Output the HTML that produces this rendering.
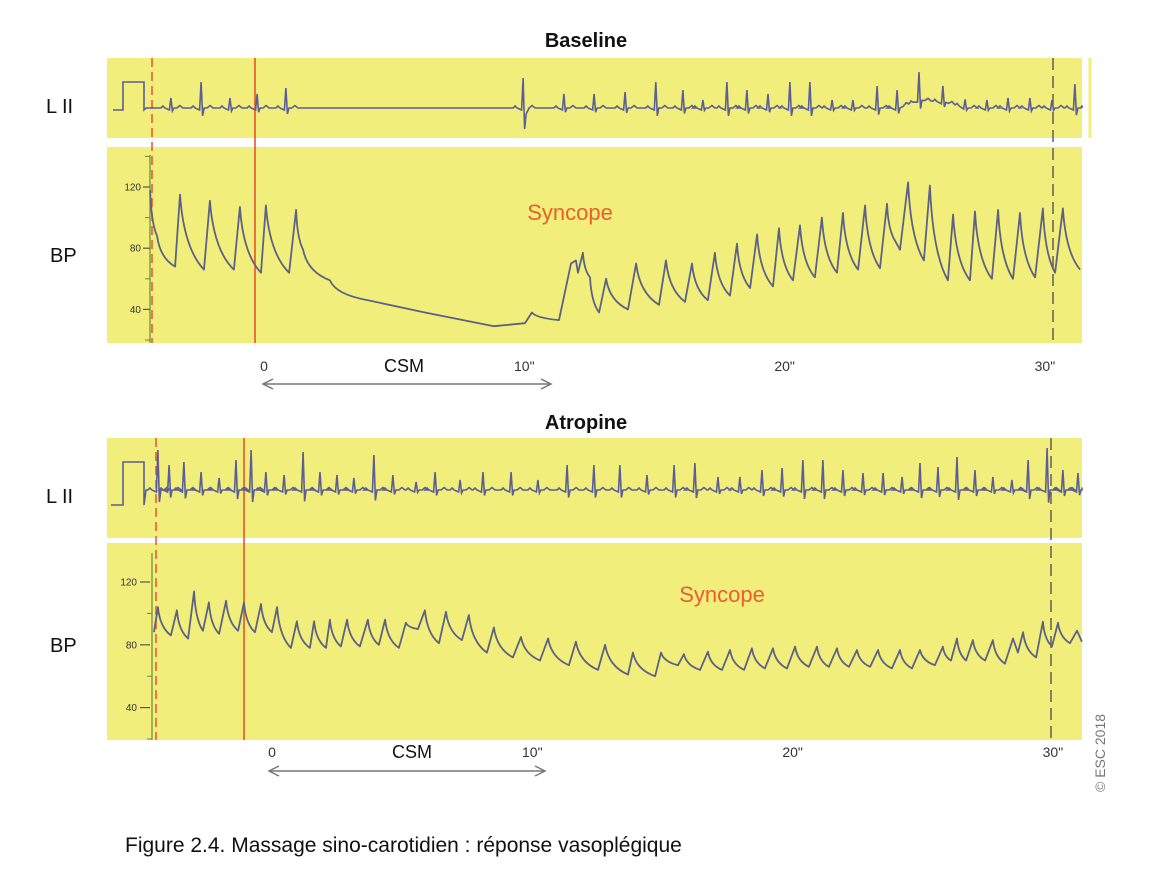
<!DOCTYPE html>
<html><head><meta charset="utf-8">
<style>
html,body{margin:0;padding:0;background:#fff;}
svg{display:block;font-family:"Liberation Sans",sans-serif;}
</style></head>
<body>
<svg id="fig" width="1166" height="880" viewBox="0 0 1166 880" xmlns="http://www.w3.org/2000/svg">
  <rect x="0" y="0" width="1166" height="880" fill="#ffffff"/>
  <g>
    <text x="586" y="47" text-anchor="middle" font-size="20" font-weight="bold" fill="#111">Baseline</text>
    <rect x="107" y="58" width="975" height="80" fill="#f1ee7b"/>
    <rect x="107" y="147" width="975" height="196" fill="#f1ee7b"/>
    <line x1="1090" y1="58" x2="1090" y2="138" stroke="#f1ee7b" stroke-width="3"/>
    <text x="46" y="113" font-size="20" fill="#111">L II</text>
    <text x="50" y="262" font-size="20" fill="#111">BP</text>
    <text x="570" y="220" text-anchor="middle" font-size="22" fill="#e8602c">Syncope</text>
    <g id="bAxis"></g>
    <g id="bLines"></g>
    <path id="bEcg" fill="none" stroke="#5a5f95" stroke-width="1.6"/>
    <path id="bBp" fill="none" stroke="#5c6285" stroke-width="1.8" stroke-linejoin="round"/>
    <g id="bTicks"></g>
    <text x="404" y="372" text-anchor="middle" font-size="18" fill="#111">CSM</text>
    <g stroke="#777" stroke-width="1.5" fill="none">
      <line x1="263" y1="384" x2="551" y2="384"/>
      <polyline points="273,379 263,384 273,389"/>
      <polyline points="541,379 551,384 541,389"/>
    </g>
  </g>
  <g>
    <text x="586" y="429" text-anchor="middle" font-size="20" font-weight="bold" fill="#111">Atropine</text>
    <rect x="107" y="438" width="975" height="100" fill="#f1ee7b"/>
    <rect x="107" y="543" width="975" height="197" fill="#f1ee7b"/>
    <text x="46" y="503" font-size="20" fill="#111">L II</text>
    <text x="50" y="652" font-size="20" fill="#111">BP</text>
    <text x="722" y="602" text-anchor="middle" font-size="22" fill="#e8602c">Syncope</text>
    <g id="aAxis"></g>
    <g id="aLines"></g>
    <path id="aEcg" fill="none" stroke="#5a5f95" stroke-width="1.6"/>
    <path id="aBp" fill="none" stroke="#5c6285" stroke-width="1.8" stroke-linejoin="round"/>
    <g id="aTicks"></g>
    <text x="412" y="758" text-anchor="middle" font-size="18" fill="#111">CSM</text>
    <g stroke="#777" stroke-width="1.5" fill="none">
      <line x1="269" y1="771" x2="545" y2="771"/>
      <polyline points="279,766 269,771 279,776"/>
      <polyline points="535,766 545,771 535,776"/>
    </g>
  </g>
  <text transform="translate(1105,792) rotate(-90)" font-size="14" fill="#777">© ESC 2018</text>
  <text x="125" y="852" font-size="21" fill="#111">Figure 2.4. Massage sino-carotidien : réponse vasoplégique</text>
</svg>
<script>
// ---- data ----
const timeTicks = [0, 10, 20, 30];
const timeTickLabels = ["0", "10\"", "20\"", "30\""];
const bpTicks = [40, 80, 120];
const bpMinorTicks = [20, 60, 100, 140];

// Baseline BP trace (seconds, mmHg)
const baseBpT = [-4.30,-4.03,-3.34,-3.15,-2.23,-2.00,-1.08,-0.85,-0.04,0.15,1.04,1.31,1.58,2.61,4.07,6.26,8.91,10.10,10.37,11.41,11.87,12.06,12.14,12.33,12.60,12.95,13.22,14.06,14.37,15.25,15.52,16.25,16.52,17.13,17.40,17.98,18.25,18.75,19.02,19.63,19.86,20.40,20.67,21.24,21.51,22.09,22.32,22.90,23.17,23.74,24.01,24.32,24.51,24.82,25.43,25.66,26.35,26.55,27.20,27.39,28.04,28.28,28.85,29.12,29.70,30.00,30.47,30.77,31.43];
const baseBpV = [118,88,68,115,66,111,66,107,64,108,64,105,79,59,46,38,29,31,38,33,70,72,64,77,61,38,60,40,70,43,72,45,70,46,77,49,83,54,89,55,93,59,95,61,100,64,103,66,108,67,109,85,79,123,72,121,59,102,59,104,60,105,60,103,61,106,64,106,66];

// Atropine BP trace (seconds, mmHg)
const atrBpT = [-4.15,-4.00,-3.50,-3.27,-2.84,-2.61,-2.27,-2.04,-1.65,-1.38,-0.92,-0.69,-0.27,-0.04,0.38,0.58,1.11,1.34,1.84,2.00,2.46,2.61,3.03,3.27,3.76,4.07,4.49,4.73,5.26,5.53,5.99,6.26,6.80,7.07,7.68,7.95,8.64,8.91,9.64,9.95,10.68,10.99,11.79,12.06,12.91,13.18,14.06,14.25,15.10,15.33,15.98,16.21,16.83,17.13,17.67,17.98,18.52,18.82,19.32,19.63,20.17,20.48,21.01,21.32,21.78,22.09,22.55,22.86,23.36,23.67,24.20,24.51,24.97,25.28,25.85,26.16,26.47,26.70,27.05,27.31,27.78,28.08,28.54,28.85,29.04,29.24,29.74,30.00,30.35,30.58,31.04,31.31,31.50];
const atrBpV = [88,104,86,102,84,114,89,107,87,108,89,107,88,106,88,104,78,95,78,95,78,96,79,96,79,96,80,96,78,94,90,102,81,101,83,99,75,91,72,85,70,84,67,82,64,80,61,75,60,75,67,74,64,75.6,64,76.7,64,77.8,65,77.8,65,78.8,66,78.8,66,77.8,66,76.7,66,76.7,65,76.7,65,76.7,67,78.8,70,84,70,83,70,83,68,84,75,88,72,94.7,79,94,81,89,82];

// ECG beats (seconds, R amplitude in mm)
const baseBeatT = [-3.50,-2.34,-1.23,-0.19,0.92,10.03,11.60,12.76,13.95,15.13,16.17,16.94,17.86,18.63,19.44,20.28,21.05,21.90,22.70,23.63,24.40,25.24,26.16,27.01,27.85,28.66,29.50,30.35,31.23];
const baseBeatA = [10,26,10,14,20,30,14,14,16,26,18,8,26,18,14,26,26,8,8,22,18,28,16,8,8,10,10,8,24];
const baseWanderT = [24.5,25.2,26.2,27.1];
const baseWanderV = [0,8,6,0];
const atrBeatT = [-4.00,-3.57,-3.00,-2.34,-1.65,-1.00,-0.42,0.15,0.85,1.58,2.23,2.88,3.53,4.30,5.03,5.92,6.65,7.61,8.49,9.57,10.60,11.72,12.75,13.75,14.79,15.83,16.63,17.52,18.36,19.21,19.98,20.78,21.55,22.32,23.09,23.86,24.59,25.28,25.97,26.70,27.39,28.08,28.81,29.43,30.16,30.77,31.35];
const atrBeatA = [40,25,28,18,12,30,40,18,15,38,18,15,12,35,15,8,18,10,18,18,10,25,25,25,15,25,27,13,13,20,22,30,30,20,17,17,13,27,23,33,20,13,10,30,42,20,17];

// ---- scales ----
const X0 = 262, PXS = 26.03;
function xs(t){ return X0 + t*PXS; }
function yBase(v){ return 187 + (120 - v)*1.53; }
function yAtr(v){ return 582 + (120 - v)*1.57; }
const SVGNS = "http://www.w3.org/2000/svg";
function mk(tag, attrs, parent){
  const e = document.createElementNS(SVGNS, tag);
  for (const k in attrs) e.setAttribute(k, attrs[k]);
  parent.appendChild(e); return e;
}
function interp(ts, vs, t){
  if (t <= ts[0] || t >= ts[ts.length-1]) return 0;
  for (let i=1;i<ts.length;i++) if (t<=ts[i]) {
    const f=(t-ts[i-1])/(ts[i]-ts[i-1]); return vs[i-1]+f*(vs[i]-vs[i-1]);
  }
  return 0;
}

// BP traces: rising segments straight, short falling segments mildly concave
function bpPath(ts, vs, yf){
  let d = "M"+xs(ts[0]).toFixed(1)+","+yf(vs[0]).toFixed(1);
  for (let i=1;i<ts.length;i++){
    const x0=xs(ts[i-1]), y0=yf(vs[i-1]), x1=xs(ts[i]), y1=yf(vs[i]);
    const dx=x1-x0, dy=y1-y0;
    if (vs[i] < vs[i-1] - 3 && dx > 6 && dx < 40){
      d += " C"+(x0+0.1*dx).toFixed(1)+","+(y0+0.45*dy).toFixed(1)+" "+(x0+0.4*dx).toFixed(1)+","+(y0+0.8*dy).toFixed(1)+" "+x1.toFixed(1)+","+y1.toFixed(1);
    } else {
      d += " L"+x1.toFixed(1)+","+y1.toFixed(1);
    }
  }
  return d;
}
document.getElementById("bBp").setAttribute("d", bpPath(baseBpT, baseBpV, yBase));
document.getElementById("aBp").setAttribute("d", bpPath(atrBpT, atrBpV, yAtr));

// ECG traces
function ecgPath(beatT, beatA, y0, startX, pulse, wT, wV){
  const pts = [];
  pts.push([startX, 0]);
  beatT.forEach((t,i)=>{
    const x = xs(t), A = beatA[i];
    const deep = A >= 30 && wT !== null && i === 5 ? 12 : 0;
    pts.push([x-10,0],[x-8,2],[x-6,0],[x-1.5,-2],[x,A],[x+1.5,-A*0.3-deep],[x+3,-deep*0.5],[x+6,0],[x+9,2.5],[x+12,0]);
  });
  pts.push([1082,0]);
  let d = pulse;
  pts.forEach(p=>{
    let w = wT ? interp(wT, wV, (p[0]-X0)/PXS) : 0;
    const px = Math.min(p[0], 1082);
    d += " L"+px.toFixed(1)+","+(y0 - p[1] - w).toFixed(1);
  });
  return d;
}
document.getElementById("bEcg").setAttribute("d", ecgPath(baseBeatT, baseBeatA, 108, 146, "M113,110 L123,110 L123,82 L144,82 L144,110 L146,108", baseWanderT, baseWanderV));
document.getElementById("aEcg").setAttribute("d", ecgPath(atrBeatT, atrBeatA, 490, 148, "M111,505 L123,505 L123,462 L144,462 L144,505 L146,490", null, null));

// Y axes
function yAxis(gid, yf, axX, top, bottom, dash){
  const g = document.getElementById(gid);
  const ln = mk("line",{x1:axX,y1:top,x2:axX,y2:bottom,stroke:"#6a8a3a","stroke-width":1.2},g);
  
  
  bpMinorTicks.forEach(v=>{
    const y = yf(v); if (y<top||y>bottom) return;
    const t = mk("line",{x1:axX-5,y1:y,x2:axX,y2:y,stroke:"#6a8a3a","stroke-width":1},g);
    
    
  });
  bpTicks.forEach(v=>{
    const y = yf(v);
    const t = mk("line",{x1:axX-(dash?12:7),y1:y,x2:axX-(dash?2:0),y2:y,stroke:"#555","stroke-width":1.2},g);
    
    
    const tx = mk("text",{x:axX-(dash?15:9),y:y+3.5,"text-anchor":"end","font-size":10,fill:"#333"},g);
    tx.textContent = v;
    
    
  });
}
yAxis("bAxis", yBase, 150, 155, 343, false);
yAxis("aAxis", yAtr, 152, 553, 740, true);

// Marker lines
function markers(gid, top, bottom, redDashX, redSolidX, darkDashX){
  const g = document.getElementById(gid);
  const a = mk("line",{x1:redDashX,y1:top,x2:redDashX,y2:bottom,stroke:"#e8542b","stroke-width":1.5,"stroke-dasharray":"9,5"},g);
  
  
  const b = mk("line",{x1:redSolidX,y1:top,x2:redSolidX,y2:bottom,stroke:"#e8542b","stroke-width":1.6},g);
  
  
  const c = mk("line",{x1:darkDashX,y1:top,x2:darkDashX,y2:bottom,stroke:"#555","stroke-width":1.4,"stroke-dasharray":"12,6"},g);
  
  
}
markers("bLines", 58, 343, 152, 255, 1053);
markers("aLines", 438, 740, 156, 244, 1051);

// Time ticks
function timeAxis(gid, y, shift){
  const g = document.getElementById(gid);
  timeTicks.forEach((t,i)=>{
    const tx = mk("text",{x:xs(t)+shift,y:y,"text-anchor":"middle","font-size":14,fill:"#333"},g);
    tx.textContent = timeTickLabels[i];
    
    
  });
}
timeAxis("bTicks", 371, 2);
timeAxis("aTicks", 757, 10);
</script>
</body></html>
